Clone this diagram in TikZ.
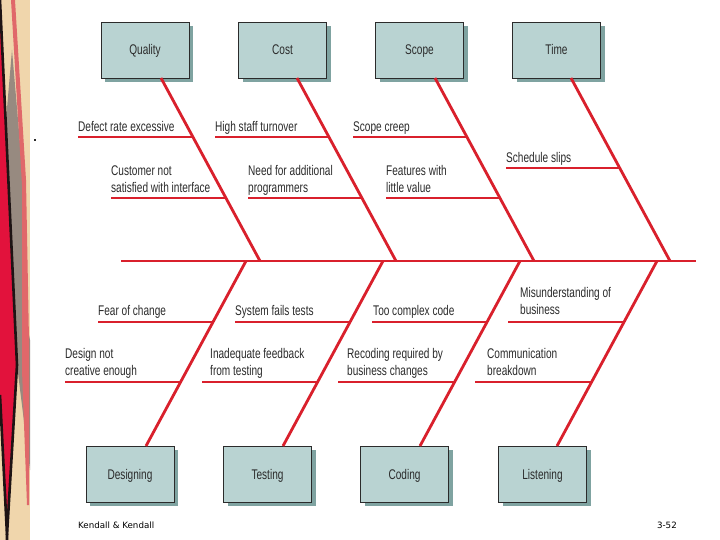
\documentclass[tikz,border=0pt]{standalone}
\usepackage{fontspec}
\setmainfont{Liberation Sans}[FakeStretch=0.72]
\newfontfamily\footfont{DejaVu Sans}
\usetikzlibrary{shadows}
\definecolor{bonered}{HTML}{D9202C}
\definecolor{boxfill}{HTML}{B9D3D2}
\definecolor{boxshadow}{HTML}{7FA3A1}
\definecolor{txt}{HTML}{2B2B2B}
\definecolor{beige}{HTML}{F0D6AC}
\definecolor{stripred}{HTML}{E2123C}
\definecolor{stripgray}{HTML}{978A80}
\definecolor{stripsalmon}{HTML}{E0686A}
\definecolor{stripblack}{HTML}{1E1414}
\begin{document}
\begin{tikzpicture}[x=1pt,y=-1pt,
  catbox/.style={draw=txt, line width=0.8pt, fill=boxfill, minimum width=88pt, minimum height=56pt,
    inner sep=0pt, font=\fontsize{14}{16}\selectfont, text=txt, text height=10pt, text depth=0pt,
    drop shadow={shadow xshift=4pt, shadow yshift=-4pt, fill=boxshadow, opacity=1}},
  bone/.style={draw=bonered, line width=2.8pt},
  cause/.style={anchor=south west, inner sep=0pt, align=left, text depth=0pt,
    font=\fontsize{14}{17}\selectfont, text=txt},
  foot/.style={font=\footfont\fontsize{8.7}{10}\selectfont, text=black, inner sep=0pt}
]
\useasboundingbox (0,0) rectangle (720,540);
\fill[white] (0,0) rectangle (720,540);
% decorative strip
\fill[beige] (0,0) rectangle (30,540);
\fill[stripgray] (12,50) -- (24,190) -- (28,330) -- (30,340) -- (30,470) -- (17,365) -- (6,120) -- cycle;
\fill[stripsalmon] (11,0) -- (15,0) -- (26,180) -- (29,340) -- (29,505) -- (27,505) -- (22,370) -- (22,185) -- cycle;
\fill[stripred] (0,5) -- (17,365) -- (7,530) -- (0,395) -- cycle;
\draw[stripblack, line width=2.6pt] (0,0) -- (17,365) -- (7,535);
\draw[stripblack, line width=2.6pt] (0,395) -- (7,535) -- (7,540);
\fill[txt] (34,139) rectangle (36,141);

% category boxes
\node[catbox] (quality) at (145,50) {Quality};
\node[catbox] (cost) at (282.5,50) {Cost};
\node[catbox] (scope) at (419.5,50) {Scope};
\node[catbox] (time) at (556.5,50) {Time};
\node[catbox] (designing) at (130,474) {Designing};
\node[catbox] (testing) at (267.5,474) {Testing};
\node[catbox] (coding) at (404.5,474) {Coding};
\node[catbox] (listening) at (542.5,474) {Listening};

% spine
\coordinate (spL) at (121,261);
\coordinate (spR) at (696,261);
\draw[bone] (spL) -- (spR);

% top bones
\coordinate (qa) at (161,78);  \coordinate (qs) at (260,261);
\coordinate (ca) at (297,78);  \coordinate (cs) at (396,261);
\coordinate (sa) at (435,78);  \coordinate (ss) at (534,261);
\coordinate (ta) at (571,78);  \coordinate (ts) at (670,261);
\draw[bone] (qa) -- (qs);
\draw[bone] (ca) -- (cs);
\draw[bone] (sa) -- (ss);
\draw[bone] (ta) -- (ts);

% bottom bones
\coordinate (ds) at (246,261); \coordinate (da) at (146,446);
\coordinate (es) at (383,261); \coordinate (ea) at (283,446);
\coordinate (os) at (520,261); \coordinate (oa) at (420,446);
\coordinate (ls) at (657,261); \coordinate (la) at (557,446);
\draw[bone] (ds) -- (da);
\draw[bone] (es) -- (ea);
\draw[bone] (os) -- (oa);
\draw[bone] (ls) -- (la);

% top causes
\coordinate (u1a) at (78,137);  \coordinate (u1b) at (193,137);
\coordinate (u2a) at (215,137); \coordinate (u2b) at (329,137);
\coordinate (u3a) at (353,137); \coordinate (u3b) at (467,137);
\coordinate (u4a) at (111,198); \coordinate (u4b) at (226,198);
\coordinate (u5a) at (248,198); \coordinate (u5b) at (362,198);
\coordinate (u6a) at (386,198); \coordinate (u6b) at (500,198);
\coordinate (u7a) at (506,168); \coordinate (u7b) at (620,168);
\foreach \i in {1,...,7} {\draw[bone] (u\i a) -- (u\i b);}

\node[cause] (c1) at (78,132) {Defect rate excessive};
\node[cause] (c2) at (215,132) {High staff turnover};
\node[cause] (c3) at (353,132) {Scope creep};
\node[cause] (c4) at (111,193) {Customer not\\satisfied with interface};
\node[cause] (c5) at (248,193) {Need for additional\\programmers};
\node[cause] (c6) at (386,193) {Features with\\little value};
\node[cause] (c7) at (506,163) {Schedule slips};

% bottom causes
\coordinate (v1a) at (98,322);  \coordinate (v1b) at (213,322);
\coordinate (v2a) at (235,322); \coordinate (v2b) at (350,322);
\coordinate (v3a) at (372,322); \coordinate (v3b) at (487,322);
\coordinate (v4a) at (508,322); \coordinate (v4b) at (624,322);
\coordinate (v5a) at (65,382);  \coordinate (v5b) at (181,382);
\coordinate (v6a) at (202,382); \coordinate (v6b) at (318,382);
\coordinate (v7a) at (338,382); \coordinate (v7b) at (455,382);
\coordinate (v8a) at (475,382); \coordinate (v8b) at (592,382);
\foreach \i in {1,...,8} {\draw[bone] (v\i a) -- (v\i b);}

\node[cause] (d1) at (98,316) {Fear of change};
\node[cause] (d2) at (235,316) {System fails tests};
\node[cause] (d3) at (373,316) {Too complex code};
\node[cause] (d4) at (520,315) {Misunderstanding of\\business};
\node[cause] (d5) at (65,376) {Design not\\creative enough};
\node[cause] (d6) at (210,376) {Inadequate feedback\\from testing};
\node[cause] (d7) at (347,376) {Recoding required by\\business changes};
\node[cause] (d8) at (487,376) {Communication\\breakdown};

% footer
\node[foot, anchor=base west] (ft1) at (78,528) {Kendall \& Kendall};
\node[foot, anchor=base east] (ft2) at (677,528) {3-52};
\end{tikzpicture}
\end{document}
